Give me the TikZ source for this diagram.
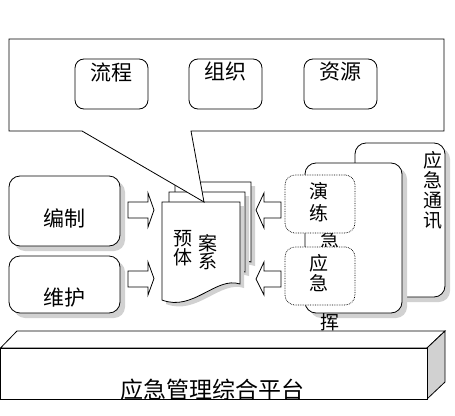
\documentclass[tikz,border=0pt]{standalone}
\usepackage{fontspec}
\newfontfamily\cjk{Noto Sans CJK SC}
\usetikzlibrary{shadows}
\definecolor{shadowgray}{gray}{0.82}
\begin{document}
\begin{tikzpicture}[x=1pt,y=-1pt,
  every node/.style={inner sep=0pt, outer sep=0pt},
  txt/.style={font=\cjk\fontsize{21}{22}\selectfont, align=center},
  vtxt/.style={font=\cjk\fontsize{19}{#1}\selectfont, align=center},
  box/.style={draw, fill=white, rounded corners=11pt, line width=0.8pt},
  shad/.style={drop shadow={shadow xshift=5pt, shadow yshift=-5pt, fill=shadowgray, opacity=1}},
  dotbox/.style={draw, densely dotted, fill=white, rounded corners=10pt, line width=0.7pt},
  blk/.style={draw, fill=white, line width=0.8pt, line join=miter},
  page/.style={draw, fill=white, line width=0.8pt, preaction={fill=shadowgray, transform canvas={shift={(4pt,-4pt)}}}}
]
\useasboundingbox (0,0) rectangle (455,415);

% left boxes
\node[box, shad, minimum width=111pt, minimum height=70pt] (bz) at (64.5,211) {};
\node[txt] (bzt) at (64.5,218) {编制};
\node[box, shad, minimum width=111pt, minimum height=57pt] (wh) at (64.5,284.5) {};
\node[txt] (wht) at (64.5,298) {维护};

% left arrows
\draw[blk] (128,202) -- (148,202) -- (148,193) -- (154,210) -- (148,227) -- (148,218) -- (128,218) -- cycle;
\draw[blk] (128,271) -- (148,271) -- (148,262) -- (154,278.5) -- (148,295) -- (148,287) -- (128,287) -- cycle;

% right side boxes
\node[box, shad, minimum width=90pt, minimum height=154pt] (tx) at (400,220) {};
\node[vtxt=20pt] (txt) at (433,190) {应\\急\\通\\讯};
\node[box, shad, minimum width=97pt, minimum height=150pt] (zh) at (353.5,238) {};
\node[vtxt=41pt] (zht) at (330,260.5) {应\\急\\指\\挥};
\node[dotbox, minimum width=70pt, minimum height=58pt] (yl) at (320,204) {};
\node[vtxt=22pt] (ylt) at (319,202) {演\\练};
\node[dotbox, minimum width=70pt, minimum height=58pt] (yj) at (320,276) {};
\node[vtxt=20pt] (yjt) at (319,273) {应\\急};

% right arrows (pointing left)
\draw[blk] (281,202) -- (264,202) -- (264,193) -- (256,210) -- (264,228) -- (264,218) -- (281,218) -- cycle;
\draw[blk] (281,271) -- (264,271) -- (264,262) -- (256,279) -- (264,295) -- (264,287) -- (281,287) -- cycle;

% document stack
\draw[page] (175,182) -- (251,182) -- (251,262) .. controls (228,254) and (205,290) .. (175,280) -- cycle;
\draw[page] (169,192) -- (245,192) -- (245,272) .. controls (222,264) and (199,300) .. (169,290) -- cycle;
\draw[page] (162,202) -- (240,202) -- (240,284) .. controls (216,276) and (193,312) .. (162,300) -- cycle;
\node[vtxt=17pt] (d1) at (183,248) {预\\体};
\node[vtxt=17pt] (d2) at (208,252) {案\\系};

% callout
\draw[fill=white, line width=0.8pt, line join=miter] (9,39) -- (444,39) -- (444,131) -- (191,131) -- (204,202) -- (82,131) -- (9,131) -- cycle;
\node[box, rounded corners=9pt, minimum width=73pt, minimum height=50pt] (lc) at (111.5,84) {};
\node[txt] (lct) at (111,72) {流程};
\node[box, rounded corners=9pt, minimum width=73pt, minimum height=50pt] (zz) at (225.5,84) {};
\node[txt] (zzt) at (225,72) {组织};
\node[box, rounded corners=9pt, minimum width=73pt, minimum height=50pt] (zy) at (340.5,84) {};
\node[txt] (zyt) at (340,72) {资源};

% platform
\draw[fill=white, line width=0.8pt] (0.5,348) -- (17,331) -- (445,331) -- (427,348) -- cycle;
\draw[fill=shadowgray, line width=0.8pt] (427,348) -- (445,331) -- (445,382) -- (427,399) -- cycle;
\node[draw, fill=white, line width=0.8pt, minimum width=426.5pt, minimum height=51pt] (pf) at (213.75,373.5) {};
\node[font=\cjk\fontsize{23}{24}\selectfont] (pft) at (212.5,390) {应急管理综合平台};
\end{tikzpicture}
\end{document}
